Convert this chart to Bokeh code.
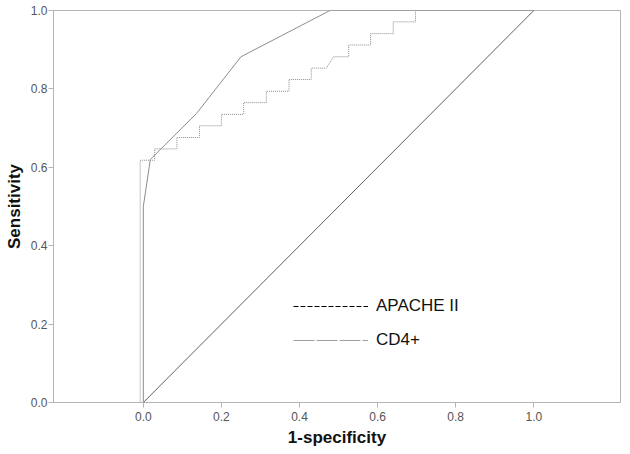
from bokeh.plotting import figure
from bokeh.models import Range1d, FixedTicker, Legend, LegendItem, NumeralTickFormatter
from bokeh.embed import file_html
from bokeh.resources import INLINE

# ROC data
cd4_fpr = [0.0, 0.0, 0.018, 0.136, 0.25, 0.478, 1.0]
cd4_tpr = [0.0, 0.5, 0.62, 0.737, 0.882, 1.0, 1.0]

apache_fpr = [-0.008, -0.008, 0.029, 0.029, 0.086, 0.086, 0.144, 0.144, 0.2, 0.2,
              0.257, 0.257, 0.315, 0.315, 0.373, 0.373, 0.43, 0.43, 0.469, 0.487,
              0.526, 0.526, 0.582, 0.582, 0.64, 0.64, 0.697, 0.697, 1.0]
apache_tpr = [0.0, 0.618, 0.618, 0.647, 0.647, 0.676, 0.676, 0.706, 0.706, 0.735,
              0.735, 0.765, 0.765, 0.794, 0.794, 0.824, 0.824, 0.853, 0.853, 0.882,
              0.882, 0.912, 0.912, 0.941, 0.941, 0.971, 0.971, 1.0, 1.0]

ref_x = [0.0, 1.0]
ref_y = [0.0, 1.0]

tick_values = [0.0, 0.2, 0.4, 0.6, 0.8, 1.0]
series_names = ["APACHE II", "CD4+"]

FONT = "Liberation Sans"
NAN = float("nan")

p = figure(width=622, height=449, output_backend="svg", toolbar_location=None,
           x_range=Range1d(-0.23, 1.222), y_range=Range1d(0, 1),
           min_border_top=10, min_border_right=2, min_border_left=53, min_border_bottom=44)

p.xgrid.visible = False
p.ygrid.visible = False
p.outline_line_color = "#b4b4b4"
p.outline_line_width = 1
p.background_fill_color = "white"
p.border_fill_color = "white"

for ax in (p.xaxis[0], p.yaxis[0]):
    ax.ticker = FixedTicker(ticks=tick_values)
    ax.formatter = NumeralTickFormatter(format="0.0")
    ax.axis_line_color = "#b4b4b4"
    ax.major_tick_line_color = "#b4b4b4"
    ax.major_tick_out = 5
    ax.major_tick_in = 0
    ax.minor_tick_line_color = None
    ax.major_label_text_font = FONT
    ax.major_label_text_font_size = "12px"
    ax.major_label_text_color = "#555555"
    ax.axis_label_text_font = FONT
    ax.axis_label_text_font_size = "17px"
    ax.axis_label_text_font_style = "bold"
    ax.axis_label_text_color = "#111111"

p.xaxis.axis_label = "1-specificity"
p.yaxis.axis_label = "Sensitivity"
p.xaxis.major_label_standoff = 4
p.yaxis.major_label_standoff = 1
p.xaxis.axis_label_standoff = 4
p.yaxis.axis_label_standoff = 4

# reference diagonal
p.line(ref_x, ref_y, line_color="#606060", line_width=1)
# CD4+ curve
p.line(cd4_fpr, cd4_tpr, line_color="#8c8c8c", line_width=1)
# APACHE II curve
p.line(apache_fpr, apache_tpr, line_color="#8c8c8c", line_width=1, line_dash="1 1")

# legend glyphs (not drawn in the data area)
leg_a = p.line([NAN, NAN], [NAN, NAN], line_color="#000000", line_width=1, line_dash="5 2")
leg_c = p.line([NAN, NAN], [NAN, NAN], line_color="#a0a0a0", line_width=1, line_dash="21 2")

legend = Legend(items=[LegendItem(label=series_names[0], renderers=[leg_a]),
                       LegendItem(label=series_names[1], renderers=[leg_c])],
                location=(240, 52), glyph_width=75, glyph_height=16,
                label_standoff=8, spacing=14, padding=0, margin=0,
                border_line_color=None, background_fill_alpha=0,
                label_text_font=FONT, label_text_font_size="17px",
                label_text_color="#111111")
p.add_layout(legend, "center")

open("out.html", "w").write(file_html(p, INLINE))
